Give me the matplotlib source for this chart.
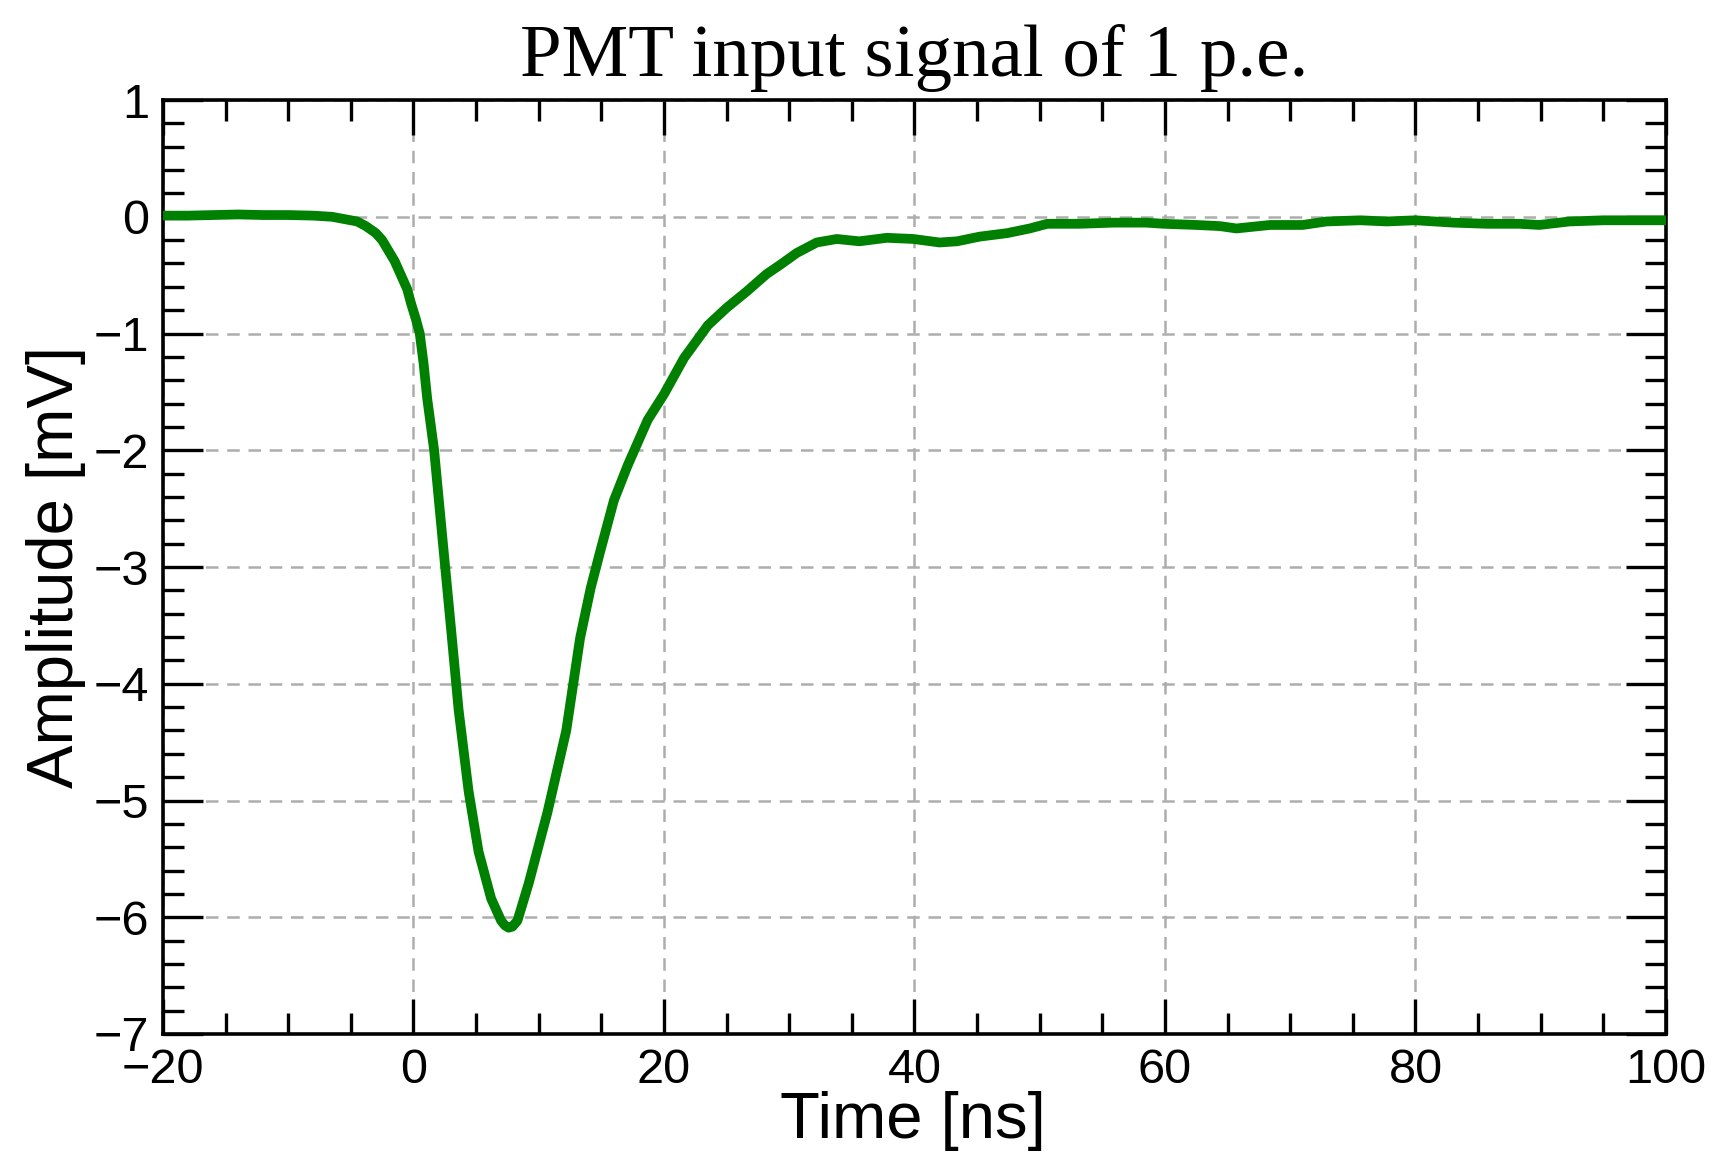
import matplotlib
matplotlib.use("Agg")
import matplotlib.pyplot as plt
from matplotlib.ticker import MultipleLocator

# pulse shape (time in ns, amplitude in mV)
time_ns = [-20, -18, -16, -14, -12, -10, -8, -6.5, -5.5, -4.5, -3.8, -3.0, -2.5,
           -2.0, -1.5, -1.0, -0.5, -0.2, 0.2, 0.5, 0.8, 1.1, 1.65, 2.3, 3.0, 3.6,
           4.4, 5.2, 6.2, 7.0, 7.3, 7.6, 7.9, 8.3, 9.2, 10.7, 12.2, 13.3, 14.15,
           14.9, 16.0, 17.1, 18.7, 20.0, 21.6, 23.5, 25.0, 26.6, 28.2, 29.3, 30.6,
           32.2, 33.8, 35.6, 37.8, 39.9, 42.0, 43.4, 45.2, 47.4, 49.2, 50.6, 53.2,
           55.9, 58.5, 59.9, 62.5, 64.4, 65.7, 68.4, 71.0, 72.9, 75.6, 77.7, 80.0,
           83.0, 85.7, 88.3, 89.9, 92.3, 95.0, 97.7, 100.0]
amplitude_mv = [0.01, 0.01, 0.015, 0.02, 0.015, 0.015, 0.01, 0.0, -0.02, -0.04,
                -0.08, -0.14, -0.20, -0.29, -0.38, -0.50, -0.62, -0.74, -0.88,
                -1.0, -1.25, -1.56, -2.0, -2.74, -3.53, -4.22, -4.92, -5.44, -5.84,
                -6.03, -6.07, -6.09, -6.08, -6.03, -5.71, -5.1, -4.4, -3.61, -3.18,
                -2.87, -2.43, -2.13, -1.74, -1.52, -1.21, -0.93, -0.78, -0.64,
                -0.49, -0.41, -0.31, -0.22, -0.19, -0.21, -0.18, -0.19, -0.22,
                -0.21, -0.17, -0.14, -0.10, -0.06, -0.06, -0.05, -0.05, -0.06,
                -0.07, -0.08, -0.10, -0.07, -0.07, -0.04, -0.03, -0.04, -0.03,
                -0.05, -0.06, -0.06, -0.07, -0.04, -0.03, -0.03, -0.03]

fig = plt.figure(figsize=(17.12, 11.54), dpi=100)
ax = fig.add_axes([0.0952, 0.1040, 0.8779, 0.8093])

ax.plot(time_ns, amplitude_mv, color="#008000", lw=7,
        solid_capstyle="round", solid_joinstyle="round", zorder=3)

ax.set_xlim(-20, 100)
ax.set_ylim(-7, 1)
ax.xaxis.set_major_locator(MultipleLocator(20))
ax.xaxis.set_minor_locator(MultipleLocator(5))
ax.yaxis.set_major_locator(MultipleLocator(1))
ax.yaxis.set_minor_locator(MultipleLocator(0.2))

ax.grid(True, which="major", color="#adadad", lw=1.8, dashes=(5, 3.5), zorder=1)

tick_font = "Liberation Sans"
ax.tick_params(which="both", direction="in", top=True, right=True, width=2.4,
               colors="black")
ax.tick_params(axis="x", which="major", length=25, pad=10)
ax.tick_params(axis="y", which="major", length=29, pad=10)
ax.tick_params(which="minor", length=15)
for lab in ax.get_xticklabels() + ax.get_yticklabels():
    lab.set_fontfamily(tick_font)
    lab.set_fontsize(35)
for sp in ax.spines.values():
    sp.set_linewidth(2.6)

ax.set_xlabel("Time [ns]", fontsize=47, family=tick_font, va="top")
ax.xaxis.set_label_coords(0.499, -0.061)
ax.set_ylabel("Amplitude [mV]", fontsize=47, family=tick_font)
ax.yaxis.set_label_coords(-0.051, 0.5)

ax.set_title("PMT input signal of 1 p.e.", fontsize=54,
             family="Liberation Serif", pad=17)

fig.savefig("out.png", dpi=100)
